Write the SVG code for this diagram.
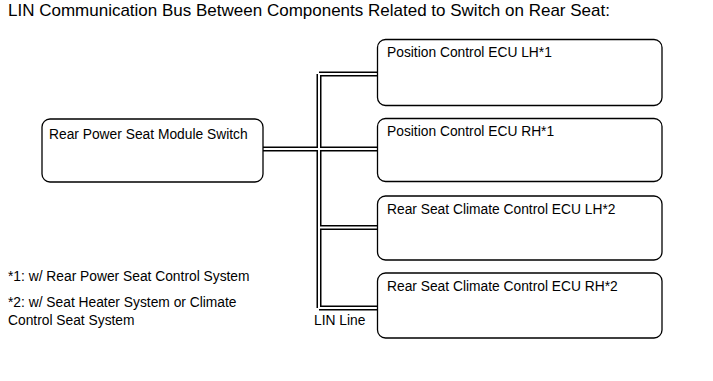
<svg xmlns="http://www.w3.org/2000/svg" width="713" height="381" viewBox="0 0 713 381">
<style>
text{font-family:"Liberation Sans",Arial,sans-serif;font-size:13.8px;fill:#000}
.title{font-size:17px}
.box{fill:#fff;stroke:#000;stroke-width:1.3}
.bo{fill:none;stroke:#000;stroke-width:5}
.bi{fill:none;stroke:#fff;stroke-width:2}
</style>
<rect width="713" height="381" fill="#fff"/>
<text class="title" x="8" y="16">LIN Communication Bus Between Components Related to Switch on Rear Seat:</text>
<g id="connectors">
<path class="bo" d="M262.5,149 H378 M319,74 V308 M319,74 H378 M319,227.5 H378 M319,308 H378"/>
<path class="bi" d="M262.5,149 H378 M319,74 V308 M319,74 H378 M319,227.5 H378 M319,308 H378"/>
</g>
<g id="switch"><rect class="box" x="42" y="119" width="221" height="63" rx="8"/><text x="49" y="139">Rear Power Seat Module Switch</text></g>
<g id="ecu-lh1"><rect class="box" x="377.5" y="39.5" width="284.5" height="66" rx="8"/><text x="387" y="57">Position Control ECU LH*1</text></g>
<g id="ecu-rh1"><rect class="box" x="377.5" y="118.5" width="284.5" height="63" rx="8"/><text x="387" y="136">Position Control ECU RH*1</text></g>
<g id="ecu-lh2"><rect class="box" x="377.5" y="196" width="284.5" height="64" rx="8"/><text x="387" y="214">Rear Seat Climate Control ECU LH*2</text></g>
<g id="ecu-rh2"><rect class="box" x="377.5" y="273" width="284.5" height="65" rx="8"/><text x="387" y="291">Rear Seat Climate Control ECU RH*2</text></g>
<text x="314" y="325">LIN Line</text>
<text x="8" y="281">*1: w/ Rear Power Seat Control System</text>
<text x="8" y="307">*2: w/ Seat Heater System or Climate</text>
<text x="8" y="325">Control Seat System</text>
</svg>
